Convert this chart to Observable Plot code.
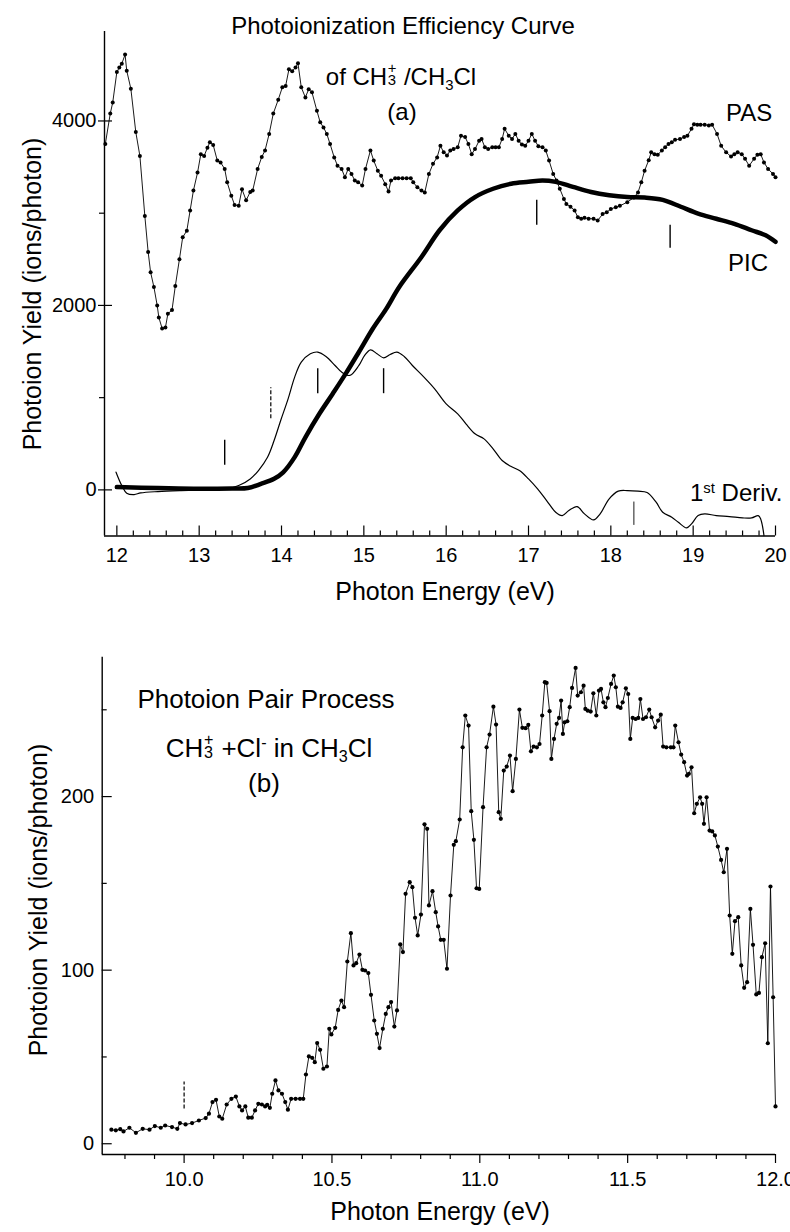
<!DOCTYPE html>
<html><head><meta charset="utf-8">
<script src="https://cdn.jsdelivr.net/npm/d3@7"></script>
<script src="https://cdn.jsdelivr.net/npm/@observablehq/plot@0.6"></script>
<style>
body{margin:0;background:#fff;}
#wrap{position:relative;width:790px;height:1232px;font-family:"Liberation Sans",Arial,sans-serif;color:#000;overflow:hidden;}
#pa{position:absolute;left:0;top:0;}
#pb{position:absolute;left:0;top:600px;}
.t{position:absolute;white-space:nowrap;line-height:1;}
.c{transform:translateX(-50%);}
.rot{transform:translate(-50%,-50%) rotate(-90deg);}
.st{display:inline-block;position:relative;width:0.42em;height:1em;}
.st .u{position:absolute;left:0.04em;top:0;font-size:0.62em;line-height:1;}
.st .d{position:absolute;left:0.04em;top:0.8em;font-size:0.62em;line-height:1;}
.sb{font-size:0.62em;position:relative;top:0.33em;}
.sp{font-size:0.62em;position:relative;top:-0.55em;}
</style></head>
<body>
<div id="wrap">
  <div id="pa"></div>
  <div id="pb"></div>
  <div class="t c" style="left:403px;top:14px;font-size:24px">Photoionization Efficiency Curve</div>
  <div class="t c" style="left:401px;top:61px;font-size:24px">of CH<span class="st"><span class="u">+</span><span class="d">3</span></span> /CH<span class="sb">3</span>Cl</div>
  <div class="t c" style="left:402px;top:100px;font-size:24px">(a)</div>
  <div class="t" style="left:726px;top:101px;font-size:24px">PAS</div>
  <div class="t" style="left:728px;top:251px;font-size:24px">PIC</div>
  <div class="t" style="left:690px;top:481px;font-size:24px">1<span class="sp">st</span> Deriv.</div>
  <div class="t c" style="left:445px;top:579px;font-size:25px">Photon Energy (eV)</div>
  <div class="t rot" style="left:32px;top:294px;font-size:25px">Photoion Yield (ions/photon)</div>
  <div class="t c" style="left:266px;top:686px;font-size:26px">Photoion Pair Process</div>
  <div class="t c" style="left:269px;top:731px;font-size:26px">CH<span class="st"><span class="u">+</span><span class="d">3</span></span> +Cl<span class="sp">-</span> in CH<span class="sb">3</span>Cl</div>
  <div class="t c" style="left:264px;top:770px;font-size:26px">(b)</div>
  <div class="t c" style="left:440px;top:1199px;font-size:25px">Photon Energy (eV)</div>
  <div class="t rot" style="left:38px;top:900px;font-size:25px">Photoion Yield (ions/photon)</div>
</div>
<script>
// ---------- Panel (a) data ----------
const pasE = [11.86,11.92,11.95,12.00,12.03,12.06,12.10,12.12,12.17,12.23,12.28,12.34,12.38,12.41,12.45,12.49,12.51,12.55,12.59,12.62,12.67,12.71,12.76,12.80,12.85,12.89,12.93,12.98,13.02,13.06,13.10,13.13,13.17,13.22,13.26,13.31,13.34,13.39,13.43,13.48,13.52,13.57,13.62,13.65,13.71,13.76,13.80,13.85,13.90,13.96,14.01,14.05,14.09,14.13,14.17,14.20,14.24,14.29,14.33,14.37,14.43,14.47,14.51,14.55,14.59,14.64,14.68,14.73,14.77,14.81,14.85,14.89,14.93,14.98,15.02,15.08,15.12,15.17,15.21,15.26,15.30,15.33,15.38,15.42,15.47,15.52,15.57,15.60,15.65,15.70,15.74,15.79,15.84,15.89,15.93,15.97,16.01,16.05,16.09,16.14,16.18,16.23,16.27,16.31,16.35,16.40,16.43,16.47,16.51,16.56,16.60,16.64,16.68,16.71,16.76,16.80,16.84,16.88,16.92,16.96,17.00,17.04,17.08,17.12,17.17,17.21,17.25,17.30,17.34,17.38,17.43,17.46,17.51,17.56,17.60,17.64,17.68,17.73,17.79,17.84,17.90,17.95,18.00,18.06,18.11,18.20,18.28,18.33,18.37,18.41,18.46,18.49,18.53,18.57,18.62,18.66,18.70,18.74,18.78,18.84,18.89,18.93,18.98,19.01,19.05,19.09,19.14,19.19,19.23,19.29,19.34,19.40,19.46,19.50,19.54,19.59,19.63,19.68,19.74,19.78,19.82,19.86,19.91,19.97,20.00];
const pasYield = [3750,4080,4200,4530,4580,4620,4720,4545,4350,3880,3620,2970,2580,2360,2200,2000,1870,1750,1760,1910,1950,2210,2500,2740,2810,3030,3245,3440,3640,3620,3710,3770,3740,3570,3550,3480,3335,3190,3090,3080,3260,3140,3230,3245,3480,3610,3680,3860,4080,4230,4365,4380,4560,4540,4580,4625,4365,4255,4345,4310,4110,3985,3930,3860,3750,3605,3515,3480,3390,3480,3425,3355,3335,3300,3480,3680,3570,3460,3405,3315,3235,3355,3380,3380,3380,3380,3380,3335,3280,3245,3225,3425,3535,3605,3730,3660,3625,3680,3695,3715,3840,3825,3750,3640,3695,3785,3805,3715,3695,3715,3715,3715,3805,3915,3840,3805,3860,3785,3745,3730,3785,3860,3785,3725,3715,3680,3570,3425,3355,3265,3155,3100,3070,3030,2955,2940,2950,2940,2940,2920,2990,3010,3045,3065,3080,3120,3170,3225,3335,3460,3575,3660,3640,3635,3680,3715,3750,3770,3795,3805,3825,3840,3915,3965,3960,3960,3960,3950,3960,3860,3730,3660,3615,3640,3660,3640,3590,3515,3590,3635,3640,3550,3480,3425,3390];

const picE = [12.00,12.50,13.00,13.40,13.59,13.75,13.91,14.02,14.16,14.29,14.46,14.62,14.78,14.94,15.11,15.27,15.43,15.70,15.92,16.14,16.35,16.57,16.79,17.00,17.17,17.33,17.54,17.76,17.98,18.20,18.41,18.63,18.85,19.06,19.28,19.50,19.71,19.88,20.00];
const picYield = [30,20,12,15,20,65,120,190,355,570,825,1040,1260,1495,1750,1960,2200,2525,2815,3030,3175,3265,3320,3340,3355,3340,3285,3230,3195,3175,3170,3145,3070,2995,2940,2885,2815,2760,2690];

const derE = [11.99,12.06,12.12,12.21,12.29,12.50,12.78,13.05,13.32,13.48,13.62,13.72,13.83,13.91,13.99,14.08,14.16,14.24,14.35,14.44,14.54,14.65,14.73,14.83,14.94,15.01,15.08,15.16,15.24,15.32,15.40,15.49,15.59,15.73,15.86,16.00,16.14,16.24,16.35,16.46,16.57,16.68,16.79,16.89,17.00,17.11,17.22,17.33,17.41,17.49,17.59,17.68,17.79,17.87,17.98,18.09,18.20,18.33,18.44,18.55,18.63,18.74,18.82,18.92,18.98,19.06,19.14,19.28,19.44,19.60,19.71,19.79,19.82,19.86];
const derVal = [192,47,-36,-51,-33,-18,-7,0,11,47,119,210,354,535,752,987,1223,1385,1476,1494,1447,1349,1277,1241,1349,1458,1519,1476,1432,1468,1494,1447,1349,1223,1096,933,825,716,608,553,445,318,253,210,119,11,-116,-242,-279,-224,-181,-260,-326,-260,-98,-14,-7,-14,-29,-134,-242,-297,-351,-412,-369,-279,-260,-279,-289,-304,-304,-279,-315,-495];

// threshold markers (energy, lower and upper yield of the short bar)
const markE = [13.31,14.44,15.24,17.10,18.72];
const markLo = [266,1043,1043,2870,2620];
const markHi = [537,1314,1314,3140,2870];
const dashMarkE = [13.87], dashMarkLo = [772], dashMarkHi = [1108];
const thinMarkE = [18.28], thinMarkLo = [-385], thinMarkHi = [-132];

const xMajorA = [12,13,14,15,16,17,18,19,20];
const xMinorA = d3.range(12, 20.001, 0.2).map(v => +v.toFixed(1)).filter(v => !Number.isInteger(v));
const yMajorA = [0,2000,4000];
const yMinorA = [1000,3000];

// ---------- Panel (b) data ----------
const pairE = [9.754,9.769,9.784,9.795,9.815,9.837,9.86,9.883,9.901,9.921,9.936,9.959,9.977,9.986,10.005,10.027,10.05,10.073,10.084,10.096,10.108,10.119,10.129,10.144,10.16,10.175,10.187,10.196,10.207,10.217,10.229,10.24,10.251,10.263,10.274,10.281,10.29,10.298,10.309,10.319,10.331,10.342,10.351,10.362,10.377,10.392,10.403,10.412,10.422,10.433,10.442,10.45,10.46,10.471,10.483,10.491,10.498,10.511,10.521,10.532,10.541,10.552,10.564,10.573,10.582,10.593,10.603,10.612,10.623,10.632,10.643,10.652,10.661,10.672,10.682,10.691,10.7,10.711,10.72,10.731,10.74,10.749,10.763,10.772,10.781,10.79,10.801,10.813,10.822,10.828,10.84,10.851,10.859,10.868,10.878,10.889,10.901,10.912,10.919,10.932,10.942,10.951,10.962,10.971,10.98,10.989,10.998,11.011,11.023,11.033,11.046,11.055,11.064,11.071,11.081,11.091,11.102,11.111,11.122,11.134,11.144,11.155,11.164,11.173,11.182,11.193,11.202,11.211,11.22,11.226,11.236,11.242,11.251,11.26,11.268,11.275,11.281,11.287,11.296,11.304,11.312,11.324,11.331,11.342,11.351,11.357,11.365,11.375,11.384,11.394,11.403,11.41,11.418,11.425,11.433,11.444,11.453,11.46,11.467,11.476,11.483,11.494,11.502,11.509,11.517,11.527,11.536,11.543,11.552,11.562,11.573,11.581,11.593,11.603,11.612,11.62,11.631,11.646,11.655,11.661,11.672,11.681,11.691,11.701,11.707,11.716,11.725,11.734,11.745,11.752,11.758,11.767,11.777,11.786,11.795,11.805,11.816,11.825,11.836,11.845,11.854,11.863,11.874,11.884,11.894,11.904,11.915,11.924,11.935,11.944,11.954,11.965,11.974,11.983,11.992,12.0];
const pairYield = [8.1,7.7,8.4,7.1,9.2,6.3,8.6,8.1,10.2,9.2,10.5,9.6,8.6,11.9,11.1,11.9,13.4,14.8,17.3,24.0,25.3,15.7,14.4,22.6,25.9,27.2,21.5,19.2,21.5,15.0,15.0,19.2,23.0,22.6,21.5,22.4,20.7,28.8,36.5,30.7,28.8,24.0,19.6,25.9,25.9,25.9,25.9,39.9,50.3,49.5,47.0,58.0,54.1,43.2,44.5,66.2,63.0,66.8,77.1,82.5,78.7,105.0,121.3,102.7,104.0,109.0,100.2,99.8,98.3,85.8,71.0,63.3,55.1,66.2,74.8,78.7,81.6,67.5,76.8,114.8,110.4,144.0,150.7,147.8,130.2,120.0,132.0,184.0,181.4,137.3,145.5,133.4,125.2,117.5,117.5,100.8,143.0,172.2,174.3,186.8,228.4,246.7,240.9,191.6,175.1,147.2,146.8,193.9,228.4,235.7,251.8,241.5,191.0,187.2,215.0,217.3,223.6,203.1,221.7,250.1,239.6,239.4,241.3,226.1,228.8,228.4,230.3,246.7,265.9,265.5,249.2,221.7,233.2,241.9,245.3,255.3,236.1,242.8,243.4,251.5,262.6,274.1,258.2,260.1,263.9,250.5,249.5,249.0,259.5,246.7,261.1,262.0,254.3,251.5,256.8,264.9,269.7,263.0,251.8,251.1,254.3,262.4,259.1,233.2,245.3,244.7,245.3,256.2,244.7,245.7,250.1,245.7,239.9,243.8,247.2,228.8,228.4,228.4,228.4,240.9,231.3,224.2,219.8,212.1,213.1,216.9,190.4,195.8,199.6,195.8,184.3,199.6,180.4,179.9,177.6,171.2,163.5,156.4,169.9,131.5,109.4,128.2,130.5,102.7,89.8,93.1,135.3,114.6,86.0,86.9,107.5,115.5,57.9,148.2,84.4,21.5];
const pairMarkE = [10.0], pairMarkLo = [20], pairMarkHi = [35.5];

const xMajorB = [10.0,10.5,11.0,11.5,12.0];
const xMinorB = d3.range(9.8, 12.001, 0.1).map(v => +v.toFixed(1)).filter(v => !xMajorB.includes(v));
const yMajorB = [0,100,200];
const yMinorB = [50,150,250];

const zip = (xs, ys) => xs.map((x, i) => ({x, y: ys[i]}));
const zip3 = (xs, lo, hi) => xs.map((x, i) => ({x, y1: lo[i], y2: hi[i]}));

const font = "'Liberation Sans', Arial, sans-serif";
const ink = "#000";

// ---------- Panel (a) ----------
const xDomA = [11.85, 20], yDomA = [-500, 4970];
const pas = zip(pasE, pasYield), pic = zip(picE, picYield), der = zip(derE, derVal);
const plotA = Plot.plot({
  width: 790, height: 600,
  marginLeft: 104, marginRight: 15, marginTop: 31, marginBottom: 64.5,
  x: {domain: xDomA, axis: null},
  y: {domain: yDomA, axis: null},
  style: {fontFamily: font, fontSize: "20px", color: ink, background: "white", overflow: "visible"},
  marks: [
    Plot.ruleX([xDomA[0]], {stroke: ink, strokeWidth: 1.4}),
    Plot.ruleY([yDomA[0]], {stroke: ink, strokeWidth: 1.4}),
    Plot.axisX(xMajorA, {anchor: "bottom", tickSize: -10, fill: "none", label: null, strokeWidth: 1.2}),
    Plot.axisX(xMinorA, {anchor: "bottom", tickSize: -5, fill: "none", label: null, strokeWidth: 1.2}),
    Plot.axisX(xMajorA, {anchor: "bottom", tickSize: 0, tickPadding: 12, label: null, fontSize: 20, tickFormat: d => String(d)}),
    Plot.axisY(yMajorA, {anchor: "left", tickSize: 6, fill: "none", label: null, strokeWidth: 1.2}),
    Plot.axisY(yMajorA, {anchor: "left", tickSize: -8, fill: "none", label: null, strokeWidth: 1.2}),
    Plot.axisY(yMinorA, {anchor: "left", tickSize: 5, fill: "none", label: null, strokeWidth: 1.2}),
    Plot.axisY(yMajorA, {anchor: "left", tickSize: 0, tickPadding: 8, label: null, fontSize: 20, tickFormat: d => String(d)}),
    Plot.line(der, {x: "x", y: "y", stroke: ink, strokeWidth: 1.2, curve: "catmull-rom"}),
    Plot.line(pic, {x: "x", y: "y", stroke: ink, strokeWidth: 4.5, curve: "catmull-rom"}),
    Plot.line(pas, {x: "x", y: "y", stroke: ink, strokeWidth: 0.9}),
    Plot.dot(pas, {x: "x", y: "y", r: 2, fill: ink, stroke: null}),
    Plot.ruleX(zip3(markE, markLo, markHi), {x: "x", y1: "y1", y2: "y2", stroke: ink, strokeWidth: 1.4}),
    Plot.ruleX(zip3(dashMarkE, dashMarkLo, dashMarkHi), {x: "x", y1: "y1", y2: "y2", stroke: ink, strokeWidth: 1.2, strokeDasharray: "4,2"}),
    Plot.ruleX(zip3(thinMarkE, thinMarkLo, thinMarkHi), {x: "x", y1: "y1", y2: "y2", stroke: ink, strokeWidth: 0.9})
  ]
});
document.getElementById("pa").appendChild(plotA);

// ---------- Panel (b) ----------
const xDomB = [9.723, 12.0], yDomB = [-6.2, 280.3];
const pair = zip(pairE, pairYield);
const plotB = Plot.plot({
  width: 790, height: 632,
  marginLeft: 101.7, marginRight: 15, marginTop: 56.7, marginBottom: 78,
  x: {domain: xDomB, axis: null},
  y: {domain: yDomB, axis: null},
  style: {fontFamily: font, fontSize: "20px", color: ink, background: "white", overflow: "visible"},
  marks: [
    Plot.ruleX([xDomB[0]], {stroke: ink, strokeWidth: 1.4}),
    Plot.ruleY([yDomB[0]], {stroke: ink, strokeWidth: 1.4}),
    Plot.axisX(xMajorB, {anchor: "bottom", tickSize: 9, fill: "none", label: null, strokeWidth: 1.2}),
    Plot.axisX(xMinorB, {anchor: "bottom", tickSize: 5, fill: "none", label: null, strokeWidth: 1.2}),
    Plot.axisX(xMajorB, {anchor: "bottom", tickSize: 0, tickPadding: 17, label: null, fontSize: 20, tickFormat: d => d.toFixed(1)}),
    Plot.axisY(yMajorB, {anchor: "left", tickSize: -10, fill: "none", label: null, strokeWidth: 1.2}),
    Plot.axisY(yMinorB, {anchor: "left", tickSize: -5, fill: "none", label: null, strokeWidth: 1.2}),
    Plot.axisY(yMajorB, {anchor: "left", tickSize: 0, tickPadding: 8, label: null, fontSize: 20, tickFormat: d => String(d)}),
    Plot.line(pair, {x: "x", y: "y", stroke: ink, strokeWidth: 0.9}),
    Plot.dot(pair, {x: "x", y: "y", r: 2.1, fill: ink, stroke: null}),
    Plot.ruleX(zip3(pairMarkE, pairMarkLo, pairMarkHi), {x: "x", y1: "y1", y2: "y2", stroke: ink, strokeWidth: 1.2, strokeDasharray: "4,2"})
  ]
});
document.getElementById("pb").appendChild(plotB);
</script>
</body></html>
